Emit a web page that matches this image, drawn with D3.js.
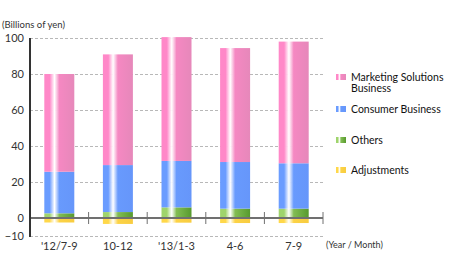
<!DOCTYPE html>
<html>
<head>
<meta charset="utf-8">
<script src="https://cdn.jsdelivr.net/npm/d3@7"></script>
<style>
  body { margin: 0; background: #fff; }
  svg { display: block; font-family: Lato, "Open Sans", sans-serif; }
</style>
</head>
<body>
<div id="chart"></div>
<script>
// values (billions of yen)
var periods = ["'12/7-9", "10-12", "'13/1-3", "4-6", "7-9"];
var others = [2.6, 3.3, 5.9, 5.2, 5.2];
var consumer = [23.1, 26.1, 25.8, 25.9, 25.2];
var marketing = [54.3, 61.5, 68.8, 63.3, 67.6];
var adjustments = [-2.5, -3.3, -2.6, -2.8, -2.8];
var yTicks = [-10, 0, 20, 40, 60, 80, 100];

var series = [
  { key: "marketing", label: ["Marketing Solutions", "Business"], values: marketing, c0: "#ff88c8", c1: "#e688ba" },
  { key: "consumer", label: ["Consumer Business"], values: consumer, c0: "#6a9cff", c1: "#6696fa" },
  { key: "others", label: ["Others"], values: others, c0: "#9fd46c", c1: "#579a2e" },
  { key: "adjustments", label: ["Adjustments"], values: adjustments, c0: "#ffd84a", c1: "#f8cc40" }
];

var width = 471, height = 271;
var margin = { top: 38, left: 30, right: 148, bottom: 35 };

var svg = d3.select("#chart").append("svg")
  .attr("width", width)
  .attr("height", height);

// gradients: highlight stripe a third of the way across each bar
var defs = svg.append("defs");
series.forEach(function(s) {
  var g = defs.append("linearGradient")
    .attr("id", "grad-" + s.key)
    .attr("x1", "0%").attr("x2", "100%").attr("y1", "0%").attr("y2", "0%");
  g.append("stop").attr("offset", "0%").attr("stop-color", s.c0);
  g.append("stop").attr("offset", "18%").attr("stop-color", s.c0);
  g.append("stop").attr("offset", "34%").attr("stop-color", "#ffffff").attr("stop-opacity", 0.95);
  g.append("stop").attr("offset", "50%").attr("stop-color", d3.interpolateRgb(s.c0, s.c1)(0.4));
  g.append("stop").attr("offset", "100%").attr("stop-color", s.c1);
});

var x = d3.scaleBand()
  .domain(periods)
  .range([margin.left, 323])
  .paddingInner(0)
  .paddingOuter(0);

var y = d3.scaleLinear()
  .domain([-10, 100])
  .range([236, 38]);

// dashed grid
svg.append("g")
  .selectAll("line")
  .data(yTicks.filter(function(d) { return d !== 0; }))
  .enter().append("line")
  .attr("x1", margin.left)
  .attr("x2", 323)
  .attr("y1", function(d) { return y(d) + 0.5; })
  .attr("y2", function(d) { return y(d) + 0.5; })
  .attr("stroke", "#b8b8b8")
  .attr("stroke-width", 1)
  .attr("stroke-dasharray", "3,2");

// build stack segments: others at bottom, then consumer, then marketing
var segments = [];
periods.forEach(function(p, i) {
  var base = 0;
  [series[2], series[1], series[0]].forEach(function(s) {
    segments.push({ period: p, key: s.key, y0: base, y1: base + s.values[i] });
    base += s.values[i];
  });
  segments.push({ period: p, key: "adjustments", y0: adjustments[i], y1: 0 });
});

var barW = 30;
svg.append("g")
  .selectAll("rect")
  .data(segments)
  .enter().append("rect")
  .attr("x", function(d) { return x(d.period) + (x.bandwidth() - barW) / 2; })
  .attr("width", barW)
  .attr("y", function(d) { return y(d.y1); })
  .attr("height", function(d) { return y(d.y0) - y(d.y1); })
  .attr("fill", function(d) { return "url(#grad-" + d.key + ")"; });

// zero axis with band ticks
var zero = svg.append("g");
zero.append("line")
  .attr("x1", margin.left).attr("x2", 323)
  .attr("y1", y(0)).attr("y2", y(0))
  .attr("stroke", "#707070").attr("stroke-width", 2);
zero.selectAll(".tick")
  .data(periods)
  .enter().append("line")
  .attr("class", "tick")
  .attr("x1", function(d) { return x(d) + x.bandwidth(); })
  .attr("x2", function(d) { return x(d) + x.bandwidth(); })
  .attr("y1", y(0) - 6).attr("y2", y(0) + 6)
  .attr("stroke", "#707070").attr("stroke-width", 1);

// y axis
var yAxis = svg.append("g")
  .attr("transform", "translate(" + margin.left + ",0)")
  .call(d3.axisLeft(y).tickValues(yTicks).tickSize(0).tickPadding(6));
yAxis.select(".domain").remove();
yAxis.selectAll("text")
  .attr("font-size", 11)
  .attr("font-family", "Lato, 'Open Sans', sans-serif")
  .attr("fill", "#333");
svg.append("line")
  .attr("x1", margin.left).attr("x2", margin.left)
  .attr("y1", y(100)).attr("y2", y(-10) + 1)
  .attr("stroke", "#333").attr("stroke-width", 2);

// x labels
svg.append("g")
  .selectAll("text")
  .data(periods)
  .enter().append("text")
  .attr("x", function(d) { return x(d) + x.bandwidth() / 2; })
  .attr("y", 250)
  .attr("text-anchor", "middle")
  .attr("font-size", 11)
  .attr("fill", "#333")
  .text(function(d) { return d; });

svg.append("text")
  .attr("x", 326).attr("y", 248)
  .attr("font-size", 9)
  .attr("fill", "#333")
  .text("(Year / Month)");

svg.append("text")
  .attr("x", 2).attr("y", 28)
  .attr("font-size", 9.5)
  .attr("fill", "#333")
  .text("(Billions of yen)");

// legend
var legendY = [74, 106, 137, 167];
var legend = svg.append("g")
  .selectAll("g")
  .data(series)
  .enter().append("g")
  .attr("transform", function(d, i) { return "translate(336," + legendY[i] + ")"; });
legend.append("rect")
  .attr("width", 10).attr("height", 6)
  .attr("fill", function(d) { return "url(#grad-" + d.key + ")"; });
legend.each(function(d) {
  var t = d3.select(this).append("text")
    .attr("x", 15).attr("y", 6.5)
    .attr("font-size", 10.5)
    .attr("fill", "#111");
  d.label.forEach(function(line, j) {
    t.append("tspan").attr("x", 15).attr("dy", j === 0 ? 0 : 11).text(line);
  });
});
</script>
</body>
</html>
